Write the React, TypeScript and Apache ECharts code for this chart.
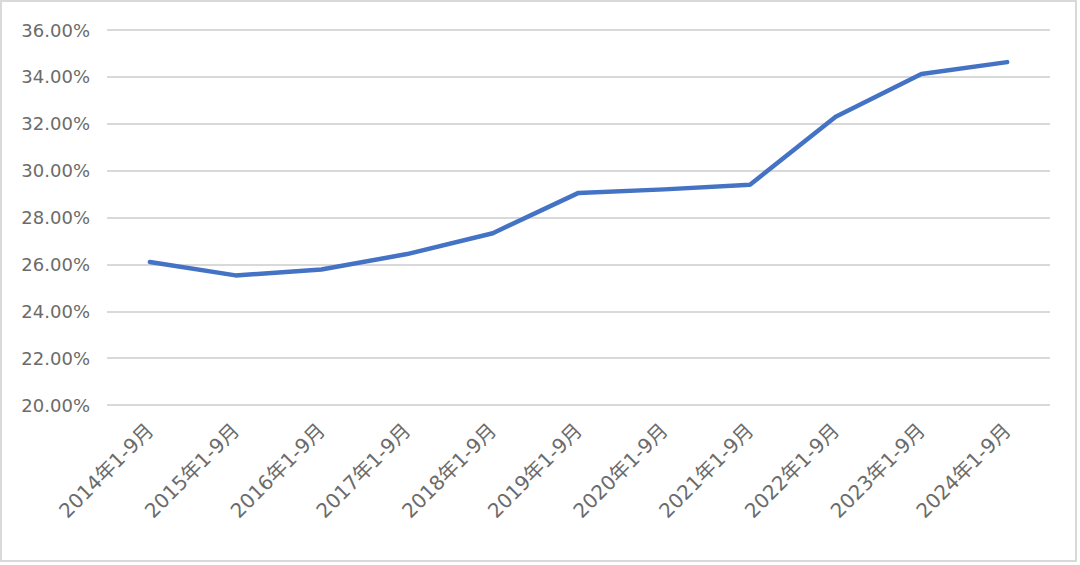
import React, { useEffect, useRef } from "react";
import * as echarts from "echarts";

const categories = [
  "2014年1-9月", "2015年1-9月", "2016年1-9月", "2017年1-9月", "2018年1-9月",
  "2019年1-9月", "2020年1-9月", "2021年1-9月", "2022年1-9月", "2023年1-9月", "2024年1-9月",
];
const values = [26.1, 25.53, 25.78, 26.44, 27.33, 29.05, 29.2, 29.4, 32.3, 34.12, 34.63];
const yTicks = { min: 20, max: 36, interval: 2 };

export default function App() {
  const ref = useRef<HTMLDivElement>(null);
  useEffect(() => {
    document.body.style.margin = "0";
    const chart = echarts.init(ref.current!, null, { renderer: "svg" });
    const font = "'DejaVu Sans', 'Noto Sans CJK SC', sans-serif";
    chart.setOption({
      animation: false,
      backgroundColor: "#ffffff",
      graphic: [
        {
          type: "rect",
          shape: { x: 1, y: 1, width: 1075, height: 560 },
          style: { fill: "none", stroke: "#d9d9d9", lineWidth: 2 },
          silent: true,
        },
      ],
      grid: { left: 107, right: 30, top: 30, bottom: 160, containLabel: false },
      xAxis: {
        type: "category",
        data: categories,
        boundaryGap: true,
        axisLine: { show: false },
        axisTick: { show: false },
        axisLabel: {
          rotate: 45,
          interval: 0,
          margin: 22,
          color: "#6b6b6b",
          fontSize: 20,
          fontFamily: font,
        },
      },
      yAxis: {
        type: "value",
        min: yTicks.min,
        max: yTicks.max,
        interval: yTicks.interval,
        axisLine: { show: false },
        axisTick: { show: false },
        splitLine: { lineStyle: { color: "#d9d9d9", width: 2 } },
        axisLabel: {
          color: "#6b6b6b",
          fontSize: 18,
          fontFamily: font,
          margin: 17,
          formatter: (v: number) => v.toFixed(2) + "%",
        },
      },
      series: [
        {
          type: "line",
          data: values,
          symbol: "none",
          lineStyle: { color: "#4472C4", width: 4.5, cap: "round", join: "round" },
        },
      ],
    });
    return () => chart.dispose();
  }, []);
  return <div ref={ref} style={{ width: 1080, height: 565 }} />;
}
